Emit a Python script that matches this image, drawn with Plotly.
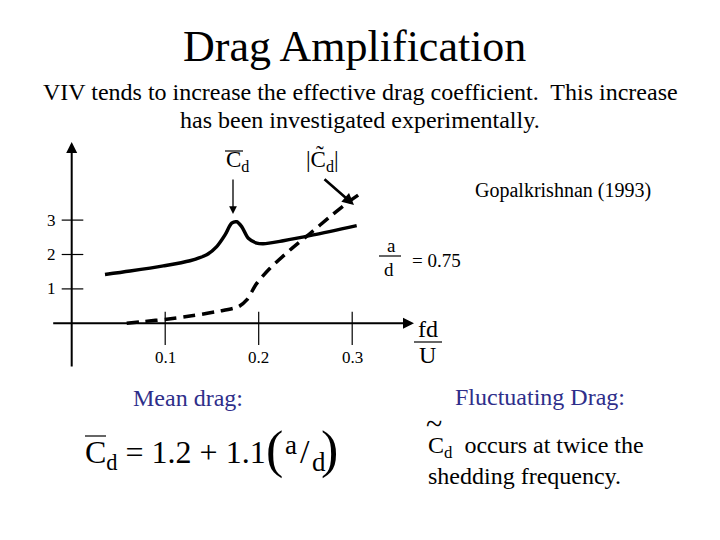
import plotly.graph_objects as go

# ---- data ----
mean_x = [0.0356, 0.0624, 0.098, 0.1265, 0.1444, 0.1551, 0.164, 0.1711, 0.1765,
          0.1818, 0.1889, 0.1979, 0.2049, 0.2263, 0.2584, 0.3048]
mean_y = [1.42, 1.52, 1.67, 1.82, 1.99, 2.23, 2.57, 2.91, 2.95,
          2.81, 2.47, 2.33, 2.31, 2.40, 2.57, 2.84]
fluct_x = [0.0588, 0.0766, 0.1016, 0.1265, 0.1551, 0.1782, 0.1872, 0.1979, 0.2121,
           0.2335, 0.2549, 0.2763, 0.2941, 0.3065]
fluct_y = [0.0, 0.05, 0.12, 0.21, 0.34, 0.48, 0.68, 1.16, 1.60,
           2.13, 2.61, 3.10, 3.49, 3.73]
x_ticks = [0.1, 0.2, 0.3]
x_tick_labels = ["0.1", "0.2", "0.3"]
y_ticks = [1, 2, 3]
y_tick_labels = ["1", "2", "3"]

SERIF = "Liberation Serif"
NAVY = "#2e2e8a"
OFF = 8  # page body margin

# target pixel <-> data mapping (full-canvas axes)
X0, XS = 71.7, 935.0
Y0, YS = 323.3, 34.4
def dx(px): return (px - X0) / XS
def dy(py): return (Y0 - py) / YS

fig = go.Figure()
fig.add_trace(go.Scatter(x=mean_x, y=mean_y, mode="lines",
                         line=dict(color="black", width=3.5, shape="spline", smoothing=0.8),
                         showlegend=False, hoverinfo="skip"))
fig.add_trace(go.Scatter(x=fluct_x, y=fluct_y, mode="lines",
                         line=dict(color="black", width=3.5, dash="12px,7px", shape="spline", smoothing=0.8),
                         showlegend=False, hoverinfo="skip"))

shapes = []
ann = []

# axes as arrows
ann.append(dict(x=dx(414), y=0, ax=dx(51.7), ay=0, xref="x", yref="y", axref="x", ayref="y",
                showarrow=True, arrowhead=2, arrowsize=1.1, arrowwidth=2, arrowcolor="black", text=""))
ann.append(dict(x=0, y=dy(142), ax=0, ay=dy(368), xref="x", yref="y", axref="x", ayref="y",
                showarrow=True, arrowhead=2, arrowsize=1.1, arrowwidth=2, arrowcolor="black", text=""))

# x ticks
for t, lab in zip(x_ticks, x_tick_labels):
    shapes.append(dict(type="line", x0=t, x1=t, y0=dy(311.7), y1=dy(345), xref="x", yref="y",
                       line=dict(color="black", width=1.2)))
    ann.append(dict(x=t, y=dy(357), xref="x", yref="y", text=lab, showarrow=False,
                    font=dict(family=SERIF, size=17, color="black")))
# y ticks
for t, lab in zip(y_ticks, y_tick_labels):
    shapes.append(dict(type="line", x0=dx(61.7), x1=dx(83.3), y0=t, y1=t, xref="x", yref="y",
                       line=dict(color="black", width=1.2)))
    ann.append(dict(x=dx(51.5), y=t, xref="x", yref="y", text=lab, showarrow=False,
                    font=dict(family=SERIF, size=17, color="black")))

def P(px, py):
    return (px - OFF) / 720.0, 1 - (py - OFF) / 540.0

def text(px, py, s, size, color="black", xanchor="center", family=SERIF):
    x, y = P(px, py)
    ann.append(dict(x=x, y=y, xref="paper", yref="paper", text=s, showarrow=False,
                    xanchor=xanchor, yanchor="middle", font=dict(family=family, size=size, color=color)))

def hline(px0, px1, py, w=1.2):
    x0, y0 = P(px0, py)
    x1, _ = P(px1, py)
    shapes.append(dict(type="line", x0=x0, x1=x1, y0=y0, y1=y0, xref="paper", yref="paper",
                       line=dict(color="black", width=w)))

# title texts
text(354, 46, "Drag Amplification", 44)
text(360, 92, "VIV tends to increase the effective drag coefficient.  This increase", 24)
text(360, 120, "has been investigated experimentally.", 24)

# fd/U
text(428, 329, "fd", 24)
hline(414, 442, 342)
text(427, 355, "U", 24)

# a/d = 0.75
text(391, 245, "a", 19)
hline(379, 401, 256)
text(389, 269, "d", 19)
text(410, 260, "= 0.75", 19, xanchor="left")

# Gopalkrishnan
text(563, 190, "Gopalkrishnan (1993)", 20)

# Cd-bar label
text(224, 161, "C<sub>d</sub>", 23, xanchor="left")
hline(225, 243, 151)
# Cd-tilde label
text(304, 160, "|C̃<sub>d</sub>|", 23, xanchor="left")

# pointer arrows
ann.append(dict(x=dx(233), y=dy(214), ax=dx(233), ay=dy(178), xref="x", yref="y", axref="x", ayref="y",
                showarrow=True, arrowhead=2, arrowsize=1.2, arrowwidth=1.3, arrowcolor="black", text=""))
ann.append(dict(x=dx(354), y=dy(205), ax=dx(323), ay=dy(178), xref="x", yref="y", axref="x", ayref="y",
                showarrow=True, arrowhead=2, arrowsize=0.9, arrowwidth=2.6, arrowcolor="black", text=""))

# Mean drag
text(188, 398, "Mean drag:", 24, color=NAVY)
text(83, 455, "C<sub>d</sub> = 1.2 + 1.1", 32, xanchor="left")
hline(85, 106, 436)
text(274, 450, "(", 52)
text(291, 445, "a", 27)
text(305, 451, "/", 34)
text(319, 462, "d", 27)
text(329, 450, ")", 52)

# Fluctuating drag
text(540, 397, "Fluctuating Drag:", 24, color=NAVY)
text(434, 423, "~", 30)
text(426, 447, "C<sub>d</sub>  occurs at twice the", 24, xanchor="left")
text(426, 476, "shedding frequency.", 24, xanchor="left")

fig.update_layout(
    width=720, height=540,
    margin=dict(l=0, r=0, t=0, b=0),
    paper_bgcolor="white", plot_bgcolor="white",
    xaxis=dict(range=[(OFF - X0) / XS, (720 + OFF - X0) / XS], visible=False, fixedrange=True),
    yaxis=dict(range=[(Y0 - 540 - OFF) / YS, (Y0 - OFF) / YS], visible=False, fixedrange=True),
    shapes=shapes, annotations=ann, showlegend=False,
)
fig.write_html("out.html")
